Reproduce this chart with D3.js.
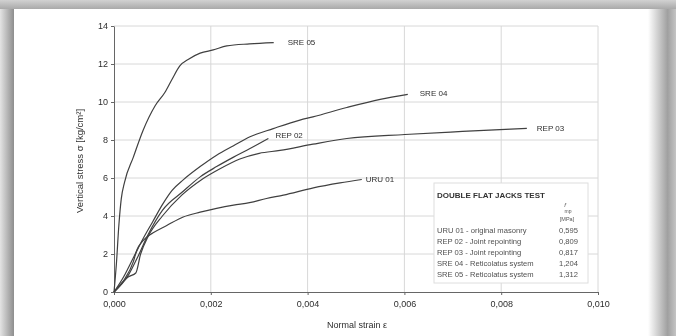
<!DOCTYPE html>
<html>
<head>
<meta charset="utf-8">
<script src="https://cdn.jsdelivr.net/npm/d3@7"></script>
<style>
  html, body { margin: 0; padding: 0; background: #cfcfcf; }
  svg { display: block; }
</style>
</head>
<body>
<div id="chart"></div>
<script>
// Data (strain [-], stress [kg/cm2])
const seriesNames = ["SRE 05", "SRE 04", "REP 02", "REP 03", "URU 01"];

const sre05Strain = [0, 0.00005, 0.0001, 0.00015, 0.00022, 0.0004, 0.0006, 0.00085, 0.00105, 0.0012, 0.00136, 0.00154, 0.00178, 0.00205, 0.00233, 0.0028, 0.0033];
const sre05Stress = [0, 1.5, 3.5, 4.9, 5.8, 7.1, 8.5, 9.8, 10.5, 11.2, 11.9, 12.25, 12.57, 12.74, 12.95, 13.06, 13.13];

const sre04Strain = [0, 0.0002, 0.0004, 0.0006, 0.0008, 0.001, 0.0012, 0.00143, 0.00178, 0.00212, 0.00247, 0.00281, 0.00329, 0.00384, 0.00411, 0.00481, 0.0055, 0.00607];
const sre04Stress = [0, 0.8, 1.8, 2.8, 3.7, 4.6, 5.35, 5.9, 6.6, 7.2, 7.7, 8.17, 8.6, 9.05, 9.22, 9.71, 10.14, 10.4];

const rep02Strain = [0, 0.0003, 0.0005, 0.0007, 0.001, 0.00143, 0.00178, 0.00212, 0.00247, 0.00281, 0.00319];
const rep02Stress = [0, 0.9, 1.9, 3.0, 4.3, 5.3, 6.06, 6.6, 7.1, 7.55, 8.08];

const rep03Strain = [0, 0.0003, 0.00045, 0.00055, 0.0007, 0.001, 0.0014, 0.0018, 0.0022, 0.0026, 0.003, 0.00343, 0.00411, 0.00481, 0.00601, 0.0072, 0.00853];
const rep03Stress = [0, 0.8, 1.0, 2.0, 2.9, 4.0, 5.1, 5.9, 6.5, 7.0, 7.3, 7.45, 7.78, 8.08, 8.29, 8.45, 8.61];

const uru01Strain = [0, 0.0002, 0.0004, 0.00047, 0.0006, 0.0008, 0.00109, 0.00143, 0.00178, 0.00212, 0.00247, 0.0028, 0.00315, 0.0035, 0.00412, 0.00467, 0.00512];
const uru01Stress = [0, 0.6, 1.6, 2.2, 2.7, 3.1, 3.5, 3.95, 4.2, 4.4, 4.57, 4.7, 4.92, 5.1, 5.48, 5.74, 5.92];

const xTicks = [0, 0.002, 0.004, 0.006, 0.008, 0.010];
const yTicks = [0, 2, 4, 6, 8, 10, 12, 14];

const legendTitle = "DOUBLE FLAT JACKS TEST";
const legendRows = ["URU 01 - original masonry", "REP 02 - Joint repointing", "REP 03 - Joint repointing", "SRE 04 - Reticolatus system", "SRE 05 - Reticolatus system"];
const legendValues = ["0,595", "0,809", "0,817", "1,204", "1,312"];

// label nudges (px) next to each curve end
const labelDx = [14, 12, 7, 10, 4];
const labelDy = [0, -1, -3, 0, 0];

const W = 676, H = 336;
const margin = {top: 26, right: 78, bottom: 44, left: 114};
const font = "'Liberation Sans', Arial, sans-serif";

const svg = d3.select("#chart")
  .append("svg")
    .attr("width", W)
    .attr("height", H);

// photo frame look
const defs = svg.append("defs");
const gTop = defs.append("linearGradient").attr("id", "gTop").attr("x1", 0).attr("y1", 0).attr("x2", 0).attr("y2", 1);
gTop.append("stop").attr("offset", "0%").attr("stop-color", "#d2d2d2");
gTop.append("stop").attr("offset", "100%").attr("stop-color", "#a9a9a9");
const gLeft = defs.append("linearGradient").attr("id", "gLeft").attr("x1", 0).attr("y1", 0).attr("x2", 1).attr("y2", 0);
gLeft.append("stop").attr("offset", "0%").attr("stop-color", "#e4e4e4");
gLeft.append("stop").attr("offset", "100%").attr("stop-color", "#8e8e8e");
const gRight = defs.append("linearGradient").attr("id", "gRight").attr("x1", 0).attr("y1", 0).attr("x2", 1).attr("y2", 0);
gRight.append("stop").attr("offset", "0%").attr("stop-color", "#ffffff");
gRight.append("stop").attr("offset", "70%").attr("stop-color", "#a0a0a0");
gRight.append("stop").attr("offset", "100%").attr("stop-color", "#c4c4c4");
defs.append("filter").attr("id", "soft")
  .append("feGaussianBlur").attr("stdDeviation", 0.35);

svg.append("rect").attr("width", W).attr("height", H).attr("fill", "#cfcfcf");
svg.append("rect").attr("x", 0).attr("y", 0).attr("width", W).attr("height", 9).attr("fill", "url(#gTop)");
svg.append("rect").attr("x", 0).attr("y", 9).attr("width", 14).attr("height", H - 9).attr("fill", "url(#gLeft)");
svg.append("rect").attr("x", 14).attr("y", 9).attr("width", 636).attr("height", H - 9).attr("fill", "#ffffff");
svg.append("rect").attr("x", 648).attr("y", 9).attr("width", 28).attr("height", H - 9).attr("fill", "url(#gRight)");

const chart = svg.append("g").attr("filter", "url(#soft)");

// scales
const x = d3.scaleLinear().domain([0, 0.010]).range([margin.left, W - margin.right]);
const y = d3.scaleLinear().domain([0, 14]).range([H - margin.bottom, margin.top]);

// grid
chart.append("g")
  .selectAll("line")
  .data(yTicks.slice(1))
  .join("line")
    .attr("x1", x(0)).attr("x2", x(0.010))
    .attr("y1", d => y(d)).attr("y2", d => y(d))
    .attr("stroke", "#d8d8d8").attr("stroke-width", 1);
chart.append("g")
  .selectAll("line")
  .data(xTicks.slice(1))
  .join("line")
    .attr("x1", d => x(d)).attr("x2", d => x(d))
    .attr("y1", y(0)).attr("y2", y(14))
    .attr("stroke", "#d8d8d8").attr("stroke-width", 1);

// axes
const fmt = d => d3.format(".3f")(d).replace(".", ",");
const xAxis = chart.append("g")
  .attr("transform", `translate(0,${y(0)})`)
  .call(d3.axisBottom(x).tickValues(xTicks).tickFormat(fmt).tickSize(3).tickSizeOuter(0));
const yAxis = chart.append("g")
  .attr("transform", `translate(${x(0)},0)`)
  .call(d3.axisLeft(y).tickValues(yTicks).tickSize(3).tickSizeOuter(0));
[xAxis, yAxis].forEach(a => {
  a.select(".domain").attr("stroke", "#666");
  a.selectAll(".tick line").attr("stroke", "#666");
  a.selectAll("text")
    .attr("fill", "#2e2e2e")
    .style("font-family", font)
    .style("font-size", "9px");
});
xAxis.selectAll("text").attr("dy", "1.05em");
yAxis.selectAll("text").attr("x", -6);

// axis titles
chart.append("text")
  .attr("x", 357).attr("y", 328)
  .attr("text-anchor", "middle")
  .attr("fill", "#2e2e2e")
  .style("font-family", font)
  .style("font-size", "9px")
  .text("Normal strain ε");
chart.append("text")
  .attr("transform", `translate(83,${(y(0) + y(14)) / 2 + 2}) rotate(-90)`)
  .attr("text-anchor", "middle")
  .attr("fill", "#2e2e2e")
  .style("font-family", font)
  .style("font-size", "9.5px")
  .text("Vertical stress σ [kg/cm²]");

// curves
const strains = [sre05Strain, sre04Strain, rep02Strain, rep03Strain, uru01Strain];
const stresses = [sre05Stress, sre04Stress, rep02Stress, rep03Stress, uru01Stress];
const series = seriesNames.map((name, i) => ({
  name,
  points: strains[i].map((s, j) => [s, stresses[i][j]]),
  dx: labelDx[i],
  dy: labelDy[i]
}));

const line = d3.line()
  .x(d => x(d[0]))
  .y(d => y(d[1]))
  .curve(d3.curveMonotoneX);

chart.append("g")
  .selectAll("path")
  .data(series)
  .join("path")
    .attr("fill", "none")
    .attr("stroke", "#404040")
    .attr("stroke-width", 1.2)
    .attr("d", d => line(d.points));

chart.append("g")
  .selectAll("text")
  .data(series)
  .join("text")
    .attr("x", d => x(d.points[d.points.length - 1][0]) + d.dx)
    .attr("y", d => y(d.points[d.points.length - 1][1]) + d.dy)
    .attr("dy", "0.35em")
    .attr("fill", "#2e2e2e")
    .style("font-family", font)
    .style("font-size", "8px")
    .text(d => d.name);

// legend box
const lg = chart.append("g").attr("transform", "translate(434,183)");
lg.append("rect")
  .attr("width", 154).attr("height", 100)
  .attr("fill", "#ffffff")
  .attr("stroke", "#dedede");
lg.append("text")
  .attr("x", 3).attr("y", 15)
  .attr("fill", "#333")
  .style("font-family", font)
  .style("font-size", "8px")
  .style("font-weight", "bold")
  .text(legendTitle);
const hdr = lg.append("g")
  .attr("fill", "#555")
  .style("font-family", font)
  .attr("text-anchor", "middle");
hdr.append("text").attr("x", 131).attr("y", 24).style("font-size", "6px").style("font-style", "italic").text("f");
hdr.append("text").attr("x", 134).attr("y", 30).style("font-size", "5px").text("mp");
hdr.append("text").attr("x", 133).attr("y", 38).style("font-size", "5.5px").text("[MPa]");

lg.selectAll("text.row")
  .data(legendRows)
  .join("text")
    .attr("class", "row")
    .attr("x", 3)
    .attr("y", (d, i) => 50 + i * 11)
    .attr("fill", "#505050")
    .style("font-family", font)
    .style("font-size", "7.6px")
    .text(d => d);
lg.selectAll("text.val")
  .data(legendValues)
  .join("text")
    .attr("class", "val")
    .attr("x", 144)
    .attr("y", (d, i) => 50 + i * 11)
    .attr("text-anchor", "end")
    .attr("fill", "#505050")
    .style("font-family", font)
    .style("font-size", "7.6px")
    .text(d => d);
</script>
</body>
</html>
